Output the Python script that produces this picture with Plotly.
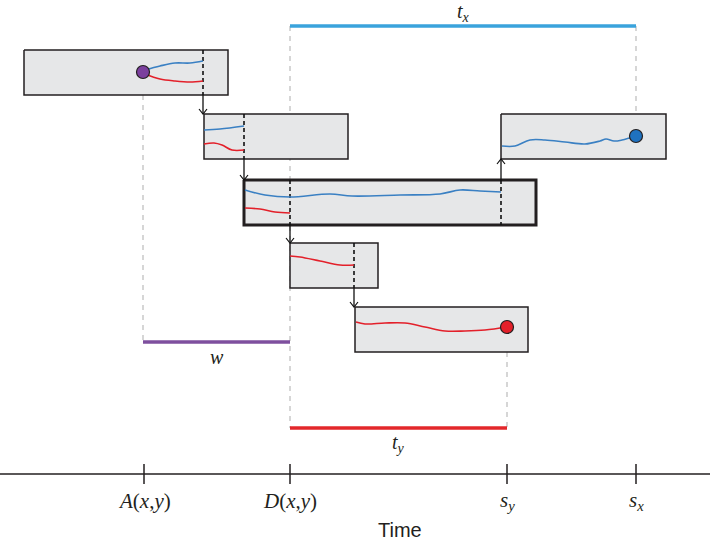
import plotly.graph_objects as go

# ---- data (diagram coordinates: x = time position, y = vertical position, top-down) ----
tick_pos = [144, 290, 507, 636]
tick_labels = ["<i>A</i>(<i>x</i>,<i>y</i>)", "<i>D</i>(<i>x</i>,<i>y</i>)", "<i>s</i><sub><i>y</i></sub>", "<i>s</i><sub><i>x</i></sub>"]

box_x0 = [24, 204, 244, 501, 290, 355]
box_x1 = [228, 348, 536, 666, 378, 528]
box_y0 = [50, 114, 180, 114, 243, 307]
box_y1 = [95, 159, 225, 159, 288, 352]
box_lw = [1.5, 1.5, 3, 1.5, 1.5, 1.5]

# black dashed split markers inside boxes: (x, y_top, y_bottom)
split_x = [203, 244, 290, 501, 354]
split_y0 = [50, 114, 180, 180, 243]
split_y1 = [95, 159, 225, 225, 288]

# arrows: from (x, y_start) to (x, y_end)
arrow_x = [203, 244, 290, 354, 501]
arrow_y0 = [95, 159, 225, 288, 180]
arrow_y1 = [114, 180, 243, 307, 159]

# lineage curves
blue_curves = [
    ([145, 160, 175, 190, 203], [70, 66, 63, 63, 61]),
    ([204, 220, 244], [130, 129, 126]),
    ([245, 265, 290, 330, 352, 400, 440, 460, 480, 501], [190, 195, 197, 194, 196, 195, 194, 190, 191, 192]),
    ([502, 515, 530, 545, 565, 585, 600, 606, 614, 622, 636], [146, 146, 140, 140, 142, 144, 141, 139, 141, 140, 136]),
]
red_curves = [
    ([145, 160, 175, 190, 203], [74, 79, 81, 82, 81]),
    ([204, 214, 222, 232, 244], [144, 143, 145, 150, 150]),
    ([245, 260, 275, 290], [208, 209, 212, 213]),
    ([290, 300, 320, 340, 354], [256, 257, 261, 265, 265]),
    ([356, 365, 385, 405, 425, 445, 465, 485, 507], [322, 324, 323, 323, 327, 331, 331, 330, 327]),
]

dot_x = [143, 636, 507]
dot_y = [72, 136, 327]
dot_colors = ["#7b3f9e", "#1f72c0", "#e3202a"]

# gray guide lines (x, y_top, y_bottom)
guide_x = [143, 290, 507, 636]
guide_y0 = [95, 26, 352, 26]
guide_y1 = [342, 428, 428, 130]

# interval bars
bar_x0 = [290, 143, 290]
bar_x1 = [636, 290, 507]
bar_y = [26, 342, 428]
bar_colors = ["#3aa3dc", "#7e4f9e", "#e3272b"]
bar_labels = ["<i>t</i><sub><i>x</i></sub>", "<i>w</i>", "<i>t</i><sub><i>y</i></sub>"]
bar_label_y = [12, 357, 443]

axis_y = 474

fig = go.Figure()

# gray dashed guides
for x, a, b in zip(guide_x, guide_y0, guide_y1):
    fig.add_trace(go.Scatter(x=[x, x], y=[a, b], mode="lines",
                             line=dict(color="#c9c9c9", width=1.5, dash="5px,5px"),
                             hoverinfo="skip"))

# boxes
for x0, x1, y0, y1, lw in zip(box_x0, box_x1, box_y0, box_y1, box_lw):
    fig.add_trace(go.Scatter(x=[x0, x1, x1, x0, x0], y=[y0, y0, y1, y1, y0], mode="lines",
                             fill="toself", fillcolor="#e6e7e8",
                             line=dict(color="#231f20", width=lw), hoverinfo="skip"))

# split markers
for x, a, b in zip(split_x, split_y0, split_y1):
    fig.add_trace(go.Scatter(x=[x, x], y=[a, b], mode="lines",
                             line=dict(color="#111111", width=1.6, dash="4px,3px"),
                             hoverinfo="skip"))

# arrows
for x, a, b in zip(arrow_x, arrow_y0, arrow_y1):
    d = 1 if b > a else -1
    fig.add_trace(go.Scatter(x=[x, x], y=[a, b], mode="lines",
                             line=dict(color="#111111", width=1.3), hoverinfo="skip"))
    fig.add_trace(go.Scatter(x=[x - 4, x, x + 4], y=[b - 5 * d, b, b - 5 * d], mode="lines",
                             line=dict(color="#111111", width=1.2), hoverinfo="skip"))

# curves
for xs, ys in blue_curves:
    fig.add_trace(go.Scatter(x=xs, y=ys, mode="lines", line=dict(color="#3a80c3", width=1.6, shape="spline"),
                             hoverinfo="skip"))
for xs, ys in red_curves:
    fig.add_trace(go.Scatter(x=xs, y=ys, mode="lines", line=dict(color="#e3202a", width=1.6, shape="spline"),
                             hoverinfo="skip"))

# dots
fig.add_trace(go.Scatter(x=dot_x, y=dot_y, mode="markers",
                         marker=dict(size=13, color=dot_colors, line=dict(color="#231f20", width=1.2)),
                         hoverinfo="skip"))

# interval bars + labels
for x0, x1, y, c, lab, ly in zip(bar_x0, bar_x1, bar_y, bar_colors, bar_labels, bar_label_y):
    fig.add_trace(go.Scatter(x=[x0, x1], y=[y, y], mode="lines", line=dict(color=c, width=3.5),
                             hoverinfo="skip"))
    fig.add_annotation(x=(x0 + x1) / 2, y=ly, text=lab, showarrow=False,
                       font=dict(family="Liberation Serif", size=20, color="#231f20"))

# time axis
fig.add_trace(go.Scatter(x=[0, 710], y=[axis_y, axis_y], mode="lines",
                         line=dict(color="#231f20", width=1.5), hoverinfo="skip"))
for x, lab in zip(tick_pos, tick_labels):
    fig.add_trace(go.Scatter(x=[x, x], y=[axis_y - 10, axis_y + 10], mode="lines",
                             line=dict(color="#231f20", width=1.5), hoverinfo="skip"))
    fig.add_annotation(x=x, y=axis_y + 27, text=lab, showarrow=False,
                       font=dict(family="Liberation Serif", size=21, color="#231f20"))

fig.add_annotation(x=400, y=530, text="Time", showarrow=False,
                   font=dict(family="Liberation Sans Narrow, Liberation Sans, Arial", size=20, color="#231f20"))

fig.update_layout(
    width=710, height=542, margin=dict(l=0, r=0, t=0, b=0),
    paper_bgcolor="white", plot_bgcolor="white", showlegend=False,
    xaxis=dict(range=[0, 710], visible=False, fixedrange=True),
    yaxis=dict(range=[542, 0], visible=False, fixedrange=True),
)

fig.write_html("out.html", config={"displayModeBar": False},
               post_script="document.body.style.margin='0';document.body.style.overflow='hidden';")
